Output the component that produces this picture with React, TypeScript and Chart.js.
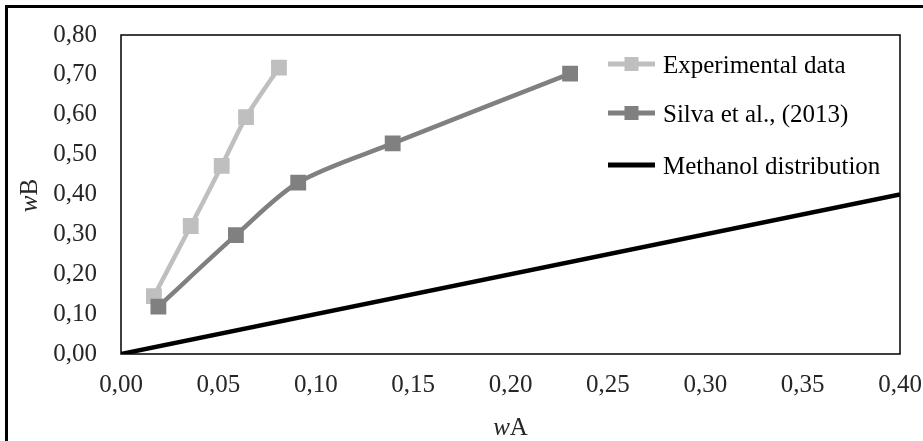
import React, { useEffect, useRef } from "react";
import { Chart, registerables } from "chart.js";

Chart.register(...registerables);

// ---- data ----
const expA = [0.0169, 0.0358, 0.0517, 0.0642, 0.0811];
const expB = [0.145, 0.321, 0.472, 0.594, 0.718];
const silvaA = [0.0192, 0.059, 0.091, 0.1395, 0.2306];
const silvaB = [0.119, 0.298, 0.43, 0.528, 0.703];
const methA = [0, 0.4];
const methB = [0, 0.4];

const seriesLabels = ["Experimental data", "Silva et al., (2013)", "Methanol distribution"];
const xTitle = ["w", "A"];
const yTitle = ["w", "B"];

const FONT = "'Liberation Serif', 'Times New Roman', serif";
const TEXT = "#262626";

const fmt = (v: number | string) => Number(v).toFixed(2).replace(".", ",");

const toPts = (xs: number[], ys: number[]) => xs.map((x, i) => ({ x, y: ys[i] }));

function drawTitle(ctx: CanvasRenderingContext2D, parts: string[], size: number) {
  const italic = `italic ${size}px ${FONT}`;
  const normal = `${size}px ${FONT}`;
  ctx.font = italic;
  const w1 = ctx.measureText(parts[0]).width;
  ctx.font = normal;
  const w2 = ctx.measureText(parts[1]).width;
  const start = -(w1 + w2) / 2;
  ctx.textBaseline = "middle";
  ctx.textAlign = "left";
  ctx.font = italic;
  ctx.fillText(parts[0], start, 0);
  ctx.font = normal;
  ctx.fillText(parts[1], start + w1, 0);
}

const framePlugin = {
  id: "frame",
  beforeDatasetsDraw(chart: any) {
    const { ctx, chartArea: a } = chart;
    ctx.save();
    ctx.strokeStyle = "#000";
    ctx.lineWidth = 1.5;
    ctx.strokeRect(a.left, a.top, a.right - a.left, a.bottom - a.top);
    ctx.restore();
  },
};

const titlesPlugin = {
  id: "titles",
  afterDraw(chart: any) {
    const { ctx, chartArea: a } = chart;
    ctx.save();
    ctx.fillStyle = TEXT;
    ctx.translate((a.left + a.right) / 2, a.bottom + 74);
    drawTitle(ctx, xTitle, 25);
    ctx.restore();
    ctx.save();
    ctx.fillStyle = TEXT;
    ctx.translate(30, (a.top + a.bottom) / 2 + 1);
    ctx.rotate(-Math.PI / 2);
    drawTitle(ctx, yTitle, 25);
    ctx.restore();
  },
};

const legendPlugin = {
  id: "customLegend",
  afterDraw(chart: any) {
    const { ctx, chartArea: a } = chart;
    const x0 = a.right - 292;
    const x1 = a.right - 245;
    const rows = [a.top + 29, a.top + 78, a.top + 130];
    ctx.save();
    chart.data.datasets.forEach((ds: any, i: number) => {
      const y = rows[i];
      ctx.strokeStyle = ds.borderColor;
      ctx.lineWidth = 5;
      ctx.beginPath();
      ctx.moveTo(x0, y);
      ctx.lineTo(x1, y);
      ctx.stroke();
      if (ds.pointRadius > 0) {
        ctx.fillStyle = ds.pointBackgroundColor;
        ctx.fillRect((x0 + x1) / 2 - 7, y - 7, 14, 14);
      }
      ctx.fillStyle = "#000";
      ctx.font = `25px ${FONT}`;
      ctx.textAlign = "left";
      ctx.textBaseline = "middle";
      ctx.fillText(ds.label, x1 + 8, y + 2);
    });
    ctx.restore();
  },
};

export default function App() {
  const ref = useRef<HTMLCanvasElement>(null);

  useEffect(() => {
    const chart = new Chart(ref.current!, {
      type: "scatter",
      data: {
        datasets: [
          {
            label: seriesLabels[0],
            data: toPts(expA, expB),
            showLine: true,
            borderColor: "#BFBFBF",
            backgroundColor: "#BFBFBF",
            pointBackgroundColor: "#BFBFBF",
            pointBorderColor: "#BFBFBF",
            pointStyle: "rect",
            pointRadius: 8,
            borderWidth: 4.5,
            tension: 0.25,
            order: 3,
          },
          {
            label: seriesLabels[1],
            data: toPts(silvaA, silvaB),
            showLine: true,
            borderColor: "#808080",
            backgroundColor: "#808080",
            pointBackgroundColor: "#808080",
            pointBorderColor: "#808080",
            pointStyle: "rect",
            pointRadius: 8,
            borderWidth: 4.5,
            tension: 0.3,
            order: 2,
          },
          {
            label: seriesLabels[2],
            data: toPts(methA, methB),
            showLine: true,
            borderColor: "#000000",
            backgroundColor: "#000000",
            pointBackgroundColor: "#000000",
            pointRadius: 0,
            borderWidth: 4.5,
            order: 1,
          },
        ] as any,
      },
      options: {
        responsive: false,
        animation: false,
        devicePixelRatio: 1,
        layout: { padding: { top: 35, right: 23, left: 0, bottom: 0 } },
        plugins: {
          legend: { display: false },
          tooltip: { enabled: false },
        },
        scales: {
          x: {
            type: "linear",
            min: 0,
            max: 0.4,
            afterFit: (s: any) => {
              s.height = 87;
              s.paddingLeft = 0;
              s.paddingRight = 0;
            },
            grid: { display: false, drawTicks: false },
            border: { display: false },
            ticks: {
              stepSize: 0.05,
              padding: 16,
              color: TEXT,
              font: { family: FONT, size: 25 },
              maxRotation: 0,
              callback: (v: any) => fmt(v),
            },
          },
          y: {
            type: "linear",
            min: 0,
            max: 0.8,
            afterFit: (s: any) => {
              s.width = 121;
              s.paddingTop = 0;
              s.paddingBottom = 0;
            },
            grid: { display: false, drawTicks: false },
            border: { display: false },
            ticks: {
              stepSize: 0.1,
              padding: 24,
              color: TEXT,
              font: { family: FONT, size: 25 },
              callback: (v: any) => fmt(v),
            },
          },
        },
      },
      plugins: [framePlugin, titlesPlugin, legendPlugin],
    });
    return () => chart.destroy();
  }, []);

  return (
    <div
      style={{
        position: "absolute",
        left: 0,
        top: 0,
        width: 923,
        height: 441,
        background: "#fff",
        overflow: "hidden",
      }}
    >
      <canvas
        ref={ref}
        width={923}
        height={441}
        style={{ position: "absolute", left: 0, top: 0 }}
      />
      <div
        style={{
          position: "absolute",
          left: 5,
          top: 5,
          width: 940,
          height: 460,
          borderLeft: "3px solid #000",
          borderTop: "3px solid #000",
          pointerEvents: "none",
        }}
      />
    </div>
  );
}
